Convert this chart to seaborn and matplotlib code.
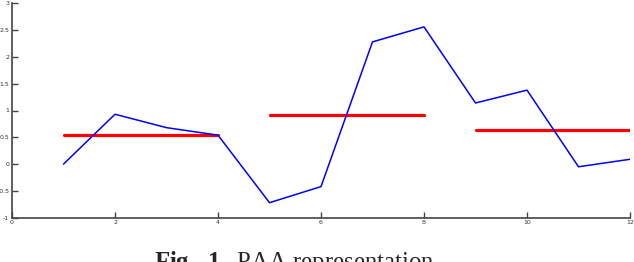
import pandas as pd
import matplotlib.pyplot as plt
import seaborn as sns

# time series (blue) and its PAA segments (red)
t = [1, 2, 3, 4, 5, 6, 7, 8, 9, 10, 11, 12]
series = [0.0, 0.93, 0.68, 0.54, -0.72, -0.42, 2.28, 2.56, 1.14, 1.38, -0.05, 0.09]
seg_start = [1, 5, 9]
seg_end = [4, 8, 12]
seg_mean = [0.535, 0.91, 0.64]

xticks = [0, 2, 4, 6, 8, 10, 12]
yticks = [-1, -0.5, 0, 0.5, 1, 1.5, 2, 2.5, 3]

sns.set_style('ticks')
plt.rcParams['mathtext.fontset'] = 'custom'
plt.rcParams['mathtext.rm'] = 'Liberation Serif'
plt.rcParams['mathtext.bf'] = 'Liberation Serif:bold'

fig = plt.figure(figsize=(6.34, 2.62), dpi=100)
ax = fig.add_axes([12 / 634, 1 - 217.7 / 262, 618 / 634, 214.4 / 262])

seg_df = pd.DataFrame({
    'x': seg_start + seg_end,
    'y': seg_mean + seg_mean,
    'seg': [0, 1, 2, 0, 1, 2],
})
sns.lineplot(data=seg_df, x='x', y='y', units='seg', estimator=None,
             color='#ff0000', linewidth=2.3, ax=ax, zorder=2)
sns.lineplot(x=t, y=series, color='#0000ff', linewidth=1.1, ax=ax, zorder=3)

ax.set_xlim(0, 12)
ax.set_ylim(-1, 3)
ax.set_xticks(xticks)
ax.set_yticks(yticks)
ax.set_xticklabels([str(v) for v in xticks])
ax.set_yticklabels([('%g' % v) for v in yticks])
ax.set_xlabel('')
ax.set_ylabel('')
sns.despine(ax=ax)
for s in ['left', 'bottom']:
    ax.spines[s].set_color('#444444')
    ax.spines[s].set_linewidth(1.2)
ax.tick_params(direction='in', length=4, width=1.0, color='#444444',
               labelsize=4.5, labelcolor='#333333', pad=2)

fig.text(294 / 634, -0.027, r'$\mathbf{Fig.\ 1.}$ PAA representation', ha='center',
         va='baseline', fontsize=17.8, family='Liberation Serif')
fig.savefig('out.png', dpi=100)
